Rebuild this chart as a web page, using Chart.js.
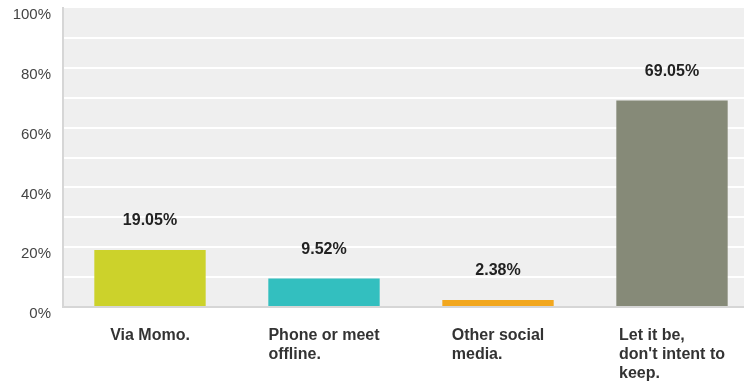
<!DOCTYPE html>
<html>
<head>
<meta charset="utf-8">
<script src="https://cdn.jsdelivr.net/npm/chart.js@4.4.1/dist/chart.umd.min.js"></script>
<style>
  html, body { margin: 0; padding: 0; background: #fff; overflow: hidden; }
  #wrap { position: relative; width: 759px; height: 385px; }
</style>
</head>
<body>
<div id="wrap"><canvas id="chart"></canvas></div>
<script>
// answer categories (one entry per line of the label)
const categories = [
    ["Via Momo."],
    ["Phone or meet", "offline."],
    ["Other social", "media."],
    ["Let it be,", "don't intent to", "keep."]
];
// share of responses, in percent
const shares = [19.05, 9.52, 2.38, 69.05];
// labelled ticks on the value axis
const yTickLabels = [0, 20, 40, 60, 80, 100];

const FONT = "'Liberation Sans', Arial, sans-serif";

// grey plot background
const plotBackground = {
    id: "plotBackground",
    beforeDraw(chart) {
        const { ctx, chartArea } = chart;
        ctx.save();
        ctx.fillStyle = "#efefef";
        ctx.fillRect(chartArea.left, chartArea.top, chartArea.right - chartArea.left, chartArea.bottom - chartArea.top);
        ctx.restore();
    }
};

// percentage above each bar + left-aligned category blocks under the axis
const barText = {
    id: "barText",
    afterDraw(chart) {
        const { ctx, chartArea } = chart;
        const meta = chart.getDatasetMeta(0);
        const xScale = chart.scales.x;
        ctx.save();
        ctx.fillStyle = "#222";
        ctx.font = "bold 16px " + FONT;
        ctx.textAlign = "center";
        ctx.textBaseline = "middle";
        meta.data.forEach((bar, i) => {
            ctx.fillText(shares[i].toFixed(2) + "%", bar.x, bar.y - 29);
        });

        ctx.fillStyle = "#333";
        ctx.textAlign = "left";
        categories.forEach((lines, i) => {
            const cx = xScale.getPixelForValue(i);
            const w = Math.max(...lines.map(l => ctx.measureText(l).width));
            lines.forEach((line, j) => {
                ctx.fillText(line, cx - w / 2, chartArea.bottom + 29 + j * 19);
            });
        });
        ctx.restore();
    }
};

new Chart(document.getElementById("chart"), {
    type: "bar",
    data: {
        labels: categories.map(c => c.join(" ")),
        datasets: [{
            data: shares,
            backgroundColor: ["#ccd22b", "#33bfbf", "#f2a71e", "#868a78"],
            borderWidth: 0,
            barPercentage: 0.64,
            categoryPercentage: 1
        }]
    },
    options: {
        responsive: true,
        maintainAspectRatio: false,
        animation: false,
        layout: { padding: { top: 8, left: 0, right: 0, bottom: 0 } },
        plugins: {
            legend: { display: false },
            tooltip: { enabled: false }
        },
        scales: {
            x: {
                grid: { display: false },
                border: { display: true, color: "#d6d6d6", width: 2 },
                ticks: { display: false },
                afterFit(scale) { scale.height = 78; }
            },
            y: {
                min: 0,
                max: 100,
                grid: {
                    color: c => c.tick && c.tick.value === 100 ? "rgba(0,0,0,0)" : "#ffffff",
                    lineWidth: 2,
                    drawTicks: false
                },
                border: { display: true, color: "#d6d6d6", width: 2 },
                ticks: {
                    stepSize: 10,
                    padding: 12,
                    labelOffset: 7,
                    color: "#444",
                    font: { family: FONT, size: 15 },
                    callback: v => yTickLabels.includes(v) ? v + "%" : ""
                },
                afterFit(scale) {
                    scale.width = 63;
                    scale.paddingTop = 0;
                    scale.paddingBottom = 0;
                }
            }
        }
    },
    plugins: [plotBackground, barText]
});
</script>
</body>
</html>
